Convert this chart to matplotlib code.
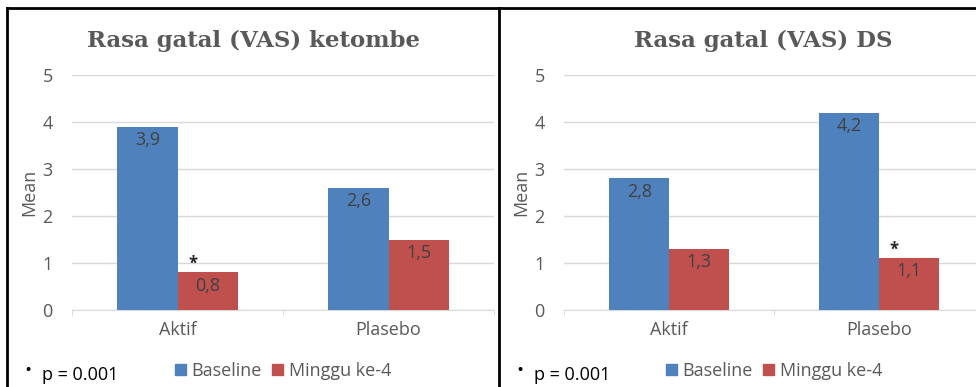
import numpy as np
import matplotlib
matplotlib.use("Agg")
from matplotlib import pyplot as plt
from matplotlib.patches import Patch
from matplotlib.lines import Line2D

# data
groups = ["Aktif", "Plasebo"]
series = ["Baseline", "Minggu ke-4"]
ketombe_baseline = [3.9, 2.6]
ketombe_minggu4 = [0.8, 1.5]
ds_baseline = [2.8, 4.2]
ds_minggu4 = [1.3, 1.1]
ketombe_sig = ["*", ""]
ds_sig = ["", "*"]
titles = ["Rasa gatal (VAS) ketombe", "Rasa gatal (VAS) DS"]

blue = "#4F81BD"
red = "#C0504D"
grey = "#595959"
grid_c = "#D9D9D9"
fs = 13

plt.rcParams['font.family'] = ['Open Sans', 'DejaVu Sans']

fig = plt.figure(figsize=(9.76, 3.87), dpi=100)


def panel(rect, title, title_x, base, week4, sig, legend_x, note_x):
	ax = fig.add_axes(rect)
	x = np.arange(len(groups)) + 0.5
	w = 0.285
	b1 = ax.bar(x - w / 2, base, w, color=blue, zorder=3)
	b2 = ax.bar(x + w / 2, week4, w, color=red, zorder=3)
	for bars in (b1, b2):
		for r in bars:
			v = r.get_height()
			ax.annotate(("%.1f" % v).replace(".", ","), (r.get_x() + r.get_width() / 2, v),
						xytext=(0, -3), textcoords="offset points", ha="center", va="top",
						fontsize=fs, color="#404040", zorder=4)
	for r, s in zip(b2, sig):
		if s:
			ax.annotate(s, (r.get_x() + r.get_width() / 2 - 0.07, r.get_height()),
						xytext=(0, 0), textcoords="offset points", ha="center", va="bottom",
						fontsize=12, fontweight="bold", color="#262626")
	ax.set_xlim(0, len(groups))
	ax.set_ylim(0, 5)
	ax.set_yticks(range(6))
	ax.set_xticks(x)
	ax.set_xticklabels(groups)
	ax.set_xticks([0, 1, 2], minor=True)
	ax.tick_params(axis="x", which="major", length=0, pad=8, labelsize=fs, labelcolor=grey)
	ax.tick_params(axis="x", which="minor", length=4, color=grid_c, direction="out")
	ax.tick_params(axis="y", length=0, pad=14, labelsize=fs, labelcolor=grey)
	ax.yaxis.grid(True, color=grid_c, linewidth=1, zorder=0)
	for s in ["top", "right", "left"]:
		ax.spines[s].set_visible(False)
	ax.spines["bottom"].set_color(grid_c)
	ax.set_ylabel("Mean", fontsize=fs, color=grey, labelpad=3)
	fig.text(title_x, 0.895, title, ha="center", va="center", fontsize=16.5,
			 fontweight="bold", family="DejaVu Serif", color=grey)
	handles = [Patch(color=blue, label=series[0]), Patch(color=red, label=series[1])]
	fig.legend(handles=handles, loc="center", bbox_to_anchor=(legend_x, 0.042), ncol=2,
			   frameon=False, fontsize=fs, handlelength=0.6, handleheight=0.6,
			   handletextpad=0.3, columnspacing=0.6, labelcolor=grey)
	fig.text(note_x, 0.045, "•", fontsize=10, fontweight="bold", ha="left", va="center", color="black")
	fig.text(note_x + 0.017, 0.03, "p = 0.001", fontsize=fs, ha="left", va="center", color="black")
	return ax


panel([0.0738, 0.199, 0.4324, 0.607], titles[0], 0.26, ketombe_baseline, ketombe_minggu4, ketombe_sig, 0.29, 0.026)
panel([0.578, 0.199, 0.4303, 0.607], titles[1], 0.782, ds_baseline, ds_minggu4, ds_sig, 0.793, 0.530)

# black frame around the two panels
for xy in ([(0.007, 0.007), (0.0, 0.979)], [(0.007, 1.0), (0.979, 0.979)],
		   [(0.511, 0.511), (0.0, 0.979)]):
	fig.add_artist(Line2D(xy[0], xy[1], color="black", linewidth=2))

fig.savefig("out.png", dpi=100)
